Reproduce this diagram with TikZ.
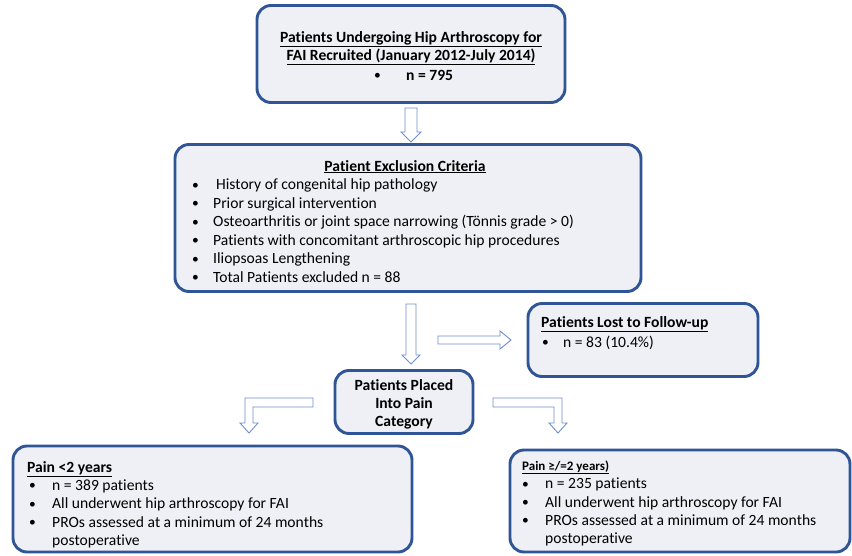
\documentclass[tikz,border=0pt]{standalone}
\usepackage{fontspec}
\setmainfont[RawFeature=-liga]{Carlito}
\definecolor{boxline}{HTML}{2F5597}
\definecolor{boxfill}{HTML}{EEF0F5}
\definecolor{arrline}{HTML}{6F8ED0}
\begin{document}
\begin{tikzpicture}[x=1pt,y=-1pt,
  box/.style={draw=boxline, line width=2.9pt, fill=boxfill, rounded corners=14pt, inner sep=0pt},
  blockarrow/.style={draw=arrline, line width=0.9pt, fill=white, line join=miter},
  txt/.style={inner sep=0pt, anchor=base west, font=\fontsize{15.6}{18}\selectfont},
  bul/.style={inner sep=0pt, anchor=base west, font=\fontsize{13.5}{16}\selectfont},
  ctxt/.style={inner sep=0pt, anchor=base, font=\fontsize{15.6}{18}\selectfont},
  small/.style={inner sep=0pt, anchor=base west, font=\fontsize{13}{15}\selectfont}]
\useasboundingbox (0,0) rectangle (852,555);
\clip (0,0) rectangle (852,555);
\fill[white] (0,0) rectangle (852,555);

% boxes
\node[box, minimum width=308pt, minimum height=97pt] (recruit) at (411,54) {};
\node[box, minimum width=466pt, minimum height=147pt] (excl) at (408,218) {};
\node[box, minimum width=230pt, minimum height=73pt] (lost) at (643,340) {};
\node[box, minimum width=138pt, minimum height=63pt] (placed) at (404,402) {};
\node[box, minimum width=399pt, minimum height=106pt] (painlt) at (212.5,499) {};
\node[box, minimum width=340pt, minimum height=102pt] (painge) at (680,501) {};

% box 1 text
\node[ctxt] (t1a) at (411,42) {\bfseries\underline{Patients Undergoing Hip Arthroscopy for}};
\node[ctxt] (t1b) at (411,60.5) {\bfseries\underline{FAI Recruited (January 2012-July 2014)}};
\node[bul] (t1c) at (374,79.5) {•};
\node[txt] (t1d) at (406,80) {\bfseries n = 795};

% box 2 text
\node[ctxt] (t2) at (405,171) {\bfseries\underline{Patient Exclusion Criteria}};
\foreach \yy/\xx/\tt [count=\i] in {189.5/216/{History of congenital hip pathology},
  208/213/{Prior surgical intervention},
  226.5/213/{Osteoarthritis or joint space narrowing (Tönnis grade > 0)},
  245/213/{Patients with concomitant arthroscopic hip procedures},
  263.5/213/{Iliopsoas Lengthening},
  282/213/{Total Patients excluded n = 88}}{
  \node[bul] (eb\i) at (192,\yy-0.5) {•};
  \node[txt] (et\i) at (\xx,\yy) {\tt};
}

% lost box text
\node[txt] (lt) at (541,327.5) {\bfseries\underline{Patients Lost to Follow-up}};
\node[bul] (lb) at (542,346.5) {•};
\node[txt] (ln) at (563,347) {n = 83 (10.4\%)};

% placed box text
\node[ctxt] (p1) at (404,390) {\bfseries Patients Placed};
\node[ctxt] (p2) at (404,408) {\bfseries Into Pain};
\node[ctxt] (p3) at (404,426) {\bfseries Category};

% pain < 2 text
\node[txt] (a0) at (27,472) {\bfseries\underline{Pain <2 years}};
\node[bul] (ab1) at (29,489.5) {•};
\node[txt] (at1) at (52,490) {n = 389 patients};
\node[bul] (ab2) at (29,508) {•};
\node[txt] (at2) at (52,508.5) {All underwent hip arthroscopy for FAI};
\node[bul] (ab3) at (29,526.5) {•};
\node[txt] (at3) at (52,527) {PROs assessed at a minimum of 24 months};
\node[txt] (at4) at (52,545.5) {postoperative};

% pain >= 2 text
\node[small] (b0) at (522,470) {\bfseries\underline{Pain ≥/=2 years)}};
\node[bul] (bb1) at (522,488) {•};
\node[txt] (bt1) at (545,488.5) {n = 235 patients};
\node[bul] (bb2) at (522,506.5) {•};
\node[txt] (bt2) at (545,507) {All underwent hip arthroscopy for FAI};
\node[bul] (bb3) at (522,524.5) {•};
\node[txt] (bt3) at (545,525) {PROs assessed at a minimum of 24 months};
\node[txt] (bt4) at (545,543) {postoperative};

% block arrows
\draw[blockarrow] (405,108) -- (417,108) -- (417,132) -- (421,132) -- (411,142) -- (401,132) -- (405,132) -- cycle;
\draw[blockarrow] (406,304) -- (416,304) -- (416,355) -- (420,355) -- (411,364) -- (402,355) -- (406,355) -- cycle;
\draw[blockarrow] (438,336) -- (500,336) -- (500,331) -- (511,340) -- (500,349) -- (500,344) -- (438,344) -- cycle;
\draw[blockarrow] (313,398) -- (245,398) -- (245,423) -- (240,423) -- (249,433) -- (258,423) -- (253,423) -- (253,407) -- (313,407) -- cycle;
\draw[blockarrow] (493,398) -- (562,398) -- (562,423) -- (567,423) -- (558,433) -- (549,423) -- (554,423) -- (554,407) -- (493,407) -- cycle;
\end{tikzpicture}
\end{document}
